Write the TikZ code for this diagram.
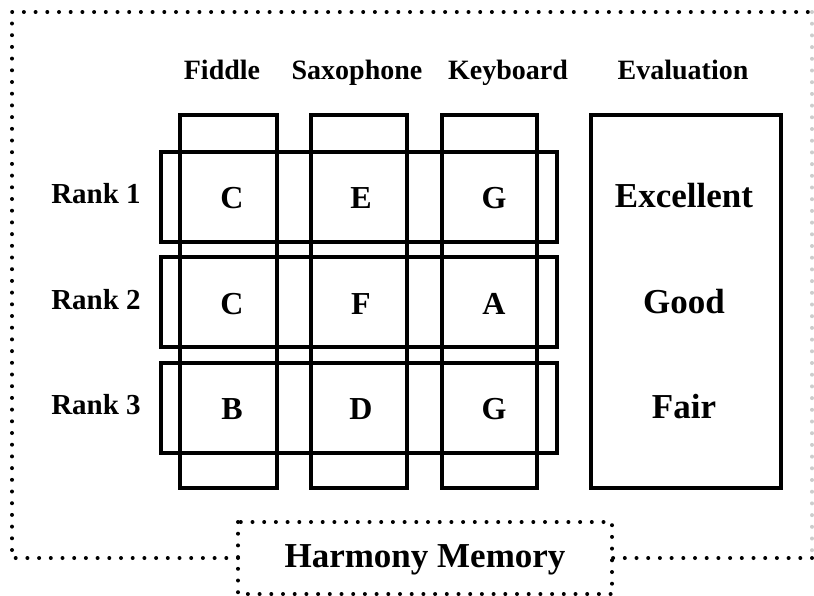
\documentclass[tikz,border=0pt]{standalone}
\usepackage{fontspec}
\setmainfont{Liberation Serif}
\begin{document}
\begin{tikzpicture}[x=0.5pt,y=-0.5pt,
  box/.style={draw=black,line width=2pt},
  dotline/.style={line width=2pt,line cap=round,dash pattern=on 0pt off 5.85pt},
  head/.style={font=\fontsize{14}{16}\selectfont\bfseries,anchor=base,inner sep=0pt},
  ranklab/.style={font=\fontsize{14.5}{16}\selectfont\bfseries,anchor=base,inner sep=0pt},
  cell/.style={font=\fontsize{16}{18}\selectfont\bfseries,anchor=base,inner sep=0pt},
  evallab/.style={font=\fontsize{17.5}{19}\selectfont\bfseries,anchor=base,inner sep=0pt},
  hm/.style={font=\fontsize{17.5}{19}\selectfont\bfseries,anchor=base,inner sep=0pt}]
\useasboundingbox (0,0) rectangle (814,595);
\fill[white] (0,0) rectangle (814,595);
% outer dotted frame
\coordinate (hmL) at (238,558);
\coordinate (hmR) at (612,558);
\draw[dotline] (hmL) -- (12,558) -- (12,12) -- (812,12);
\draw[dotline,black!20] (812,12) -- (812,558);
\draw[dotline] (812,558) -- (hmR);
% Harmony memory box
\draw[dotline] (238,522) rectangle (612,594);
\node[hm] (hmt) at (425,567) {Harmony Memory};
% headers
\node[head] (hf) at (222,79) {Fiddle};
\node[head] (hs) at (357,79) {Saxophone};
\node[head] (hk) at (508,79) {Keyboard};
\node[head] (he) at (683,79) {Evaluation};
% column boxes
\draw[box] (180,115) rectangle (277,488);
\draw[box] (311,115) rectangle (407,488);
\draw[box] (442,115) rectangle (537,488);
% row boxes
\draw[box] (161,152) rectangle (557,242);
\draw[box] (161,257) rectangle (557,347);
\draw[box] (161,363) rectangle (557,453);
% evaluation box
\draw[box] (591,115) rectangle (781,488);
% rank labels
\node[ranklab] (r1) at (96,203) {Rank 1};
\node[ranklab] (r2) at (96,309) {Rank 2};
\node[ranklab] (r3) at (96,414) {Rank 3};
% cells
\node[cell] (c11) at (232,208) {C};
\node[cell] (c12) at (361,208) {E};
\node[cell] (c13) at (494,208) {G};
\node[cell] (c21) at (232,314) {C};
\node[cell] (c22) at (361,314) {F};
\node[cell] (c23) at (494,314) {A};
\node[cell] (c31) at (232,419) {B};
\node[cell] (c32) at (361,419) {D};
\node[cell] (c33) at (494,419) {G};
% evaluations
\node[evallab] (e1) at (684,207) {Excellent};
\node[evallab] (e2) at (684,313) {Good};
\node[evallab] (e3) at (684,418) {Fair};
\end{tikzpicture}
\end{document}
